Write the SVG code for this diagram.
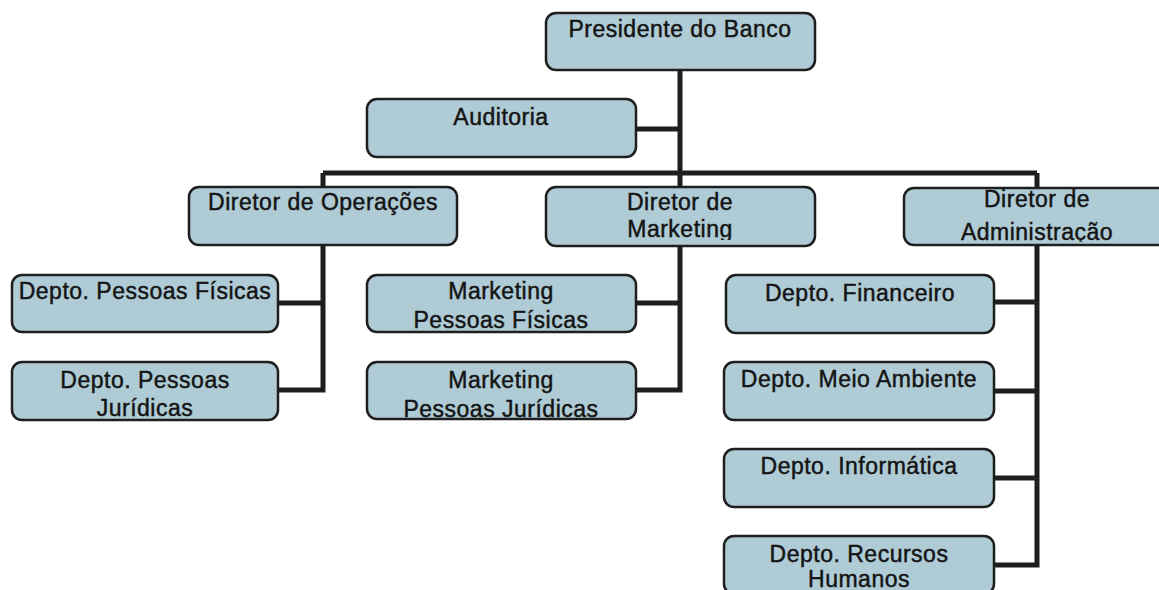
<svg xmlns="http://www.w3.org/2000/svg" width="1159" height="590" viewBox="0 0 1159 590">
<style>
.box{fill:#afcbd5;stroke:#1e1e1e;stroke-width:2.5}
.t{font-family:"Liberation Sans",Arial,sans-serif;font-size:23px;letter-spacing:0.5px;fill:#141414;stroke:#141414;stroke-width:0.45;text-anchor:middle}
.conn{fill:none;stroke:#1e1e1e;stroke-width:5;stroke-linejoin:miter;stroke-linecap:butt}
</style>
<defs>
<clipPath id="clipMkt"><rect x="546" y="187" width="269" height="53"/></clipPath>
<clipPath id="clipAdm"><rect x="904" y="188" width="260" height="53.5"/></clipPath>
</defs>
<rect width="1159" height="590" fill="#ffffff"/>
<g id="connectors" class="conn">
<path d="M680,70 V173"/>
<path d="M636,129 H680"/>
<path d="M323,173 H1037"/>
<path d="M323,173 V390 M278,303 H323 M278,390 H325.5"/>
<path d="M680,173 V390 M636,303 H680 M636,390 H682.5"/>
<path d="M1037,173 V565 M994,302 H1037 M994,391 H1037 M994,478 H1037 M994,565 H1039.5"/>
</g>
<g id="presidente"><rect class="box" x="546" y="13" width="269" height="57" rx="10"/><text class="t" x="680" y="37">Presidente do Banco</text></g>
<g id="auditoria"><rect class="box" x="367" y="99" width="269" height="58" rx="10"/><text class="t" x="501" y="125">Auditoria</text></g>
<g id="dir-operacoes"><rect class="box" x="189" y="187" width="268" height="58" rx="10"/><text class="t" x="323" y="210">Diretor de Operações</text></g>
<g id="dir-marketing"><rect class="box" x="546" y="187" width="269" height="59" rx="10"/><g clip-path="url(#clipMkt)"><text class="t" x="680" y="210">Diretor de</text><text class="t" x="680" y="237">Marketing</text></g></g>
<g id="dir-administracao"><rect class="box" x="904" y="188" width="280" height="57" rx="10"/><g clip-path="url(#clipAdm)"><text class="t" x="1037" y="207">Diretor de</text><text class="t" x="1037" y="240">Administração</text></g></g>
<g id="pf"><rect class="box" x="12" y="275" width="266" height="57" rx="10"/><text class="t" x="145" y="299">Depto. Pessoas Físicas</text></g>
<g id="pj"><rect class="box" x="12" y="362" width="266" height="58" rx="10"/><text class="t" x="145" y="388">Depto. Pessoas</text><text class="t" x="145" y="416">Jurídicas</text></g>
<g id="mkt-pf"><rect class="box" x="367" y="275" width="269" height="57" rx="10"/><text class="t" x="501" y="299">Marketing</text><text class="t" x="501" y="328">Pessoas Físicas</text></g>
<g id="mkt-pj"><rect class="box" x="367" y="362" width="269" height="57" rx="10"/><text class="t" x="501" y="388">Marketing</text><text class="t" x="501" y="417">Pessoas Jurídicas</text></g>
<g id="financeiro"><rect class="box" x="726" y="275" width="268" height="58" rx="10"/><text class="t" x="860" y="301">Depto. Financeiro</text></g>
<g id="meio-ambiente"><rect class="box" x="724" y="362" width="270" height="58" rx="10"/><text class="t" x="859" y="387">Depto. Meio Ambiente</text></g>
<g id="informatica"><rect class="box" x="724" y="449" width="270" height="58" rx="10"/><text class="t" x="859" y="474">Depto. Informática</text></g>
<g id="rh"><rect class="box" x="724" y="536" width="270" height="58" rx="10"/><text class="t" x="859" y="562">Depto. Recursos</text><text class="t" x="859" y="587">Humanos</text></g>
</svg>
